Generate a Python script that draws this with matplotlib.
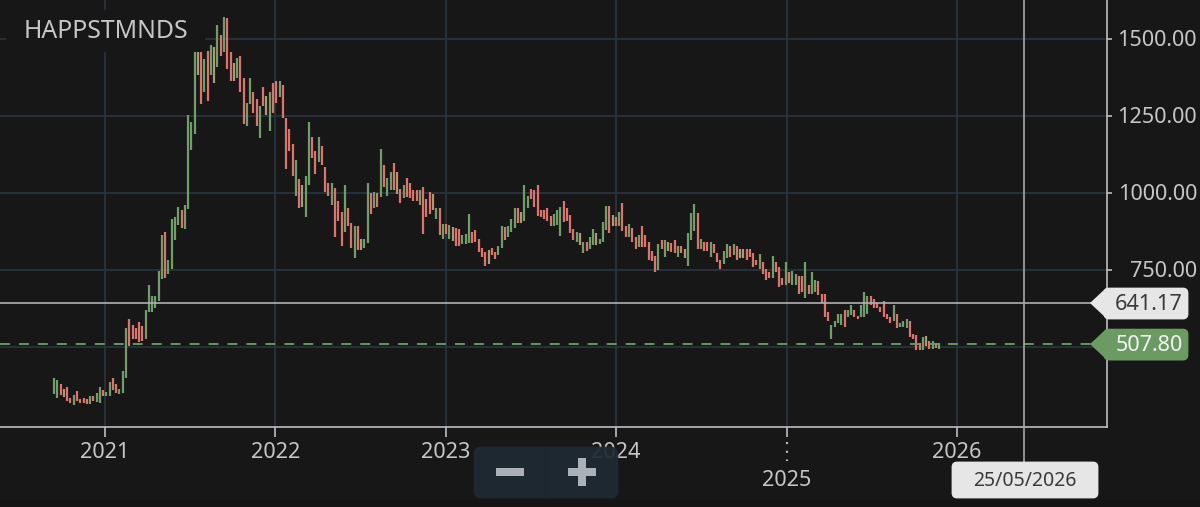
import pandas as pd
import matplotlib
matplotlib.use("Agg")
import matplotlib.pyplot as plt
import matplotlib.dates as mdates
from matplotlib.patches import FancyBboxPatch, Polygon, Rectangle

plt.rcParams['font.family'] = ['Noto Sans', 'DejaVu Sans']

symbol = "HAPPSTMNDS"
first_week = "2020-09-14"
cursor_date = "2026-05-25"
cursor_label = "25/05/2026"
horizontal_level = 641.17
last_price = 507.80
y_ticks = [500, 750, 1000, 1250, 1500]
y_labels = ["", "750.00", "1000.00", "1250.00", "1500.00"]
x_years = [2021, 2022, 2023, 2024, 2025, 2026]

highs = [397,390,378,361,368,332,344,356,331,334,331,338,338,350,368,359,353,385,397,379,
         361,419,560,588,571,560,581,565,617,700,664,664,746,862,873,781,914,919,954,943,
         960,1251,1228,1455,1455,1455,1432,1461,1478,1471,1543,1513,1571,1566,1455,1419,1437,1443,1373,1292,
         1373,1326,1304,1280,1344,1314,1326,1356,1361,1361,1350,1241,1205,1156,1106,1043,1024,1054,1228,1181,
         1135,1181,1152,1083,1031,1031,1014,973,938,1024,949,902,891,891,850,850,1031,997,1001,997,
         1141,1088,1048,1066,1095,1066,1012,1024,1048,1030,1007,1007,1007,1019,978,1001,995,949,949,898,
         898,896,889,886,880,861,866,931,873,878,849,821,808,814,821,808,826,890,887,890,
         914,949,949,937,1024,990,1012,1007,1024,943,943,949,925,931,943,954,974,950,927,881,
         871,868,839,839,857,881,868,850,903,955,955,926,919,938,967,891,898,886,857,862,
         891,862,839,810,793,833,845,845,839,835,845,827,827,816,868,932,962,932,850,839,
         839,839,833,804,781,810,833,827,833,827,816,816,816,816,805,781,799,775,752,741,
         793,775,757,722,775,741,746,734,729,729,775,700,741,717,712,670,670,612,571,583,
         607,607,617,617,636,617,600,636,676,664,664,653,641,629,647,606,595,635,606,577,
         583,588,583,542,536,510,530,534,518,519,510,510]
lows = [346,334,341,337,323,318,311,322,318,318,313,314,322,321,316,338,338,340,359,348,
        345,350,397,503,525,525,514,519,525,613,613,624,648,720,721,735,752,846,893,885,
        882,945,1137,1190,1382,1286,1326,1298,1382,1357,1409,1444,1457,1402,1362,1362,1373,1326,1222,1217,
        1286,1257,1217,1176,1281,1252,1199,1257,1292,1309,1241,1077,1136,1054,990,949,954,920,1025,1111,
        1059,1100,1088,1002,990,961,856,909,826,873,891,821,786,814,814,821,835,930,949,954,
        984,1019,990,1007,1007,995,965,983,984,983,971,971,961,866,919,931,942,914,861,849,
        866,849,843,826,826,832,832,837,837,838,808,791,761,768,797,785,797,821,846,854,
        872,884,902,902,907,949,978,954,925,919,914,907,890,890,896,858,903,909,867,845,
        839,830,804,809,816,830,828,833,839,877,867,891,891,891,874,857,857,839,816,822,
        822,822,781,778,743,748,816,792,809,806,804,792,804,786,762,846,874,816,816,810,
        810,792,804,774,751,769,786,792,798,781,786,786,781,792,758,764,752,734,717,722,
        722,741,693,700,700,705,700,700,670,676,659,670,670,676,667,640,595,583,524,564,
        576,571,564,595,601,595,588,595,595,606,635,624,624,612,595,588,577,583,559,564,
        564,559,532,524,489,489,489,502,493,493,495,493]
up_weeks = [0,1,6,11,13,14,16,17,20,21,22,28,29,30,31,32,33,35,36,37,38,40,41,42,43,46,48,50,52,56,59,60,63,66,69,
            74,77,78,81,85,89,92,95,96,98,100,102,103,107,112,117,119,121,125,126,127,136,137,139,140,141,144,145,
            153,154,155,160,162,164,165,167,168,169,173,176,179,185,187,191,194,195,196,198,201,205,206,208,
            216,220,224,226,227,230,232,233,238,239,240,241,243,244,247,248,249,257,259,260,261,266,269,271]
mixed_weeks = [3,44,49,55,65,76,94,105,116,122,133,143,161,166,171,188,193,210,211,267]

BG = "#171717"
GRID = "#29323d"
GREEN = "#6f9f68"
RED = "#dd736b"
TAN = "#ab9b75"
TXT = "#c6c6c6"
AXIS = "#bfbfbf"
FS = 15.6

W, H = 1200, 507
fig = plt.figure(figsize=(12, 5.07), dpi=100, facecolor=BG)
ax = fig.add_axes([0, (H - 427) / H, 1107 / W, 427 / H], facecolor=BG)

weeks = pd.date_range(first_week, periods=len(highs), freq="7D")
up_set, mixed_set = set(up_weeks), set(mixed_weeks)
colors = [TAN if i in mixed_set else (GREEN if i in up_set else RED) for i in range(len(highs))]

d0 = mdates.date2num(pd.Timestamp("2021-01-01"))
d1 = mdates.date2num(pd.Timestamp("2026-01-01"))
ppd = (957 - 105) / (d1 - d0)
ax.set_xlim(d0 - 105 / ppd, d0 + (1107 - 105) / ppd)
ax.set_ylim(500 - (427 - 346.5) * 3.247, 500 + 346.5 * 3.247)

year_pos = [mdates.date2num(pd.Timestamp(f"{y}-01-01")) for y in x_years]
ax.set_xticks(year_pos)
ax.set_xticklabels([])
ax.set_yticks(y_ticks)
ax.set_yticklabels([])
ax.grid(True, color=GRID, lw=1.3, zorder=0)
ax.set_axisbelow(True)
ax.tick_params(axis="x", length=7, width=1.2, color=AXIS)
ax.tick_params(axis="y", length=3.5, width=1.2, color=AXIS, right=True, left=False)
for s in ["top", "left"]:
    ax.spines[s].set_visible(False)
for s in ["right", "bottom"]:
    ax.spines[s].set_color(AXIS)
    ax.spines[s].set_linewidth(1.2)

ax.vlines(mdates.date2num(weeks), lows, highs, colors=colors, lw=1.6, zorder=3)

ax.axhline(horizontal_level, color="#b0b0b0", lw=1.2, zorder=4)
ax.axhline(last_price, color=GREEN, lw=1.3, dashes=(5.5, 5), zorder=4)

# Overlay layer in pixel space for the app's widgets
ov = fig.add_axes([0, 0, 1, 1], facecolor="none")
ov.set_xlim(0, W)
ov.set_ylim(H, 0)
ov.axis("off")

ov.add_patch(Rectangle((0, 500), W, 7, color="#141414", lw=0, zorder=1))
ov.add_patch(Rectangle((6, 10), 199, 42, color=BG, lw=0, zorder=5))
ov.text(24, 31, symbol, color=TXT, fontsize=17.9, va="center", ha="left", zorder=6)

cx = ax.transData.transform((mdates.date2num(pd.Timestamp(cursor_date)), 0))[0]
ov.plot([cx, cx], [0, 463], color="#a8a8a8", lw=1.2, zorder=4)

for year, pos in zip(x_years, year_pos):
    px = ax.transData.transform((pos, 0))[0]
    if year == 2025:
        ov.plot([px, px], [442, 461], color=AXIS, lw=1.5, dashes=(1, 3.2), zorder=3)
        ov.text(px, 481, str(year), color=TXT, fontsize=FS, ha="center", va="center", zorder=3)
    else:
        ov.text(px, 453, str(year), color=TXT, fontsize=FS, ha="center", va="center", zorder=3)

for val, lab in zip(y_ticks, y_labels):
    if lab:
        py = H - ax.transData.transform((0, val))[1]
        ov.text(1197, py + 2, lab, color=TXT, fontsize=FS, ha="right", va="center")


def tag(value, text, face, tc):
    py = H - ax.transData.transform((0, value))[1]
    ov.add_patch(FancyBboxPatch((1105, py - 14), 82, 29, boxstyle="round,pad=0,rounding_size=4",
                                fc=face, ec=face, lw=2, zorder=7))
    ov.add_patch(Polygon([(1090, py), (1106, py - 15), (1106, py + 15)], closed=True,
                         fc=face, ec=face, lw=0, zorder=7))
    ov.text(1183, py + 1.5, text, color=tc, fontsize=FS, ha="right", va="center", zorder=8)


tag(horizontal_level, f"{horizontal_level:.2f}", "#e6e6e6", "#3a3a3a")
tag(last_price, f"{last_price:.2f}", "#6b9b62", "#f2f2f2")

ov.add_patch(FancyBboxPatch((953, 463), 144, 34, boxstyle="round,pad=0,rounding_size=4",
                            fc="#e6e6e6", ec="#e6e6e6", lw=2, zorder=7))
ov.text(1025, 481, cursor_label, color="#3a3a3a", fontsize=14, ha="center", va="center", zorder=8)

ov.add_patch(FancyBboxPatch((475, 448), 142, 49, boxstyle="round,pad=0,rounding_size=6",
                            fc="#1f2a33", ec="#1f2a33", lw=2, alpha=0.93, zorder=7))
ov.plot([545, 545], [448, 497], color="#1a242c", lw=1, zorder=8)
ov.add_patch(Rectangle((496, 468), 28, 8, color="#aab1b8", lw=0, zorder=8))
ov.add_patch(Rectangle((568, 468), 28, 8, color="#aab1b8", lw=0, zorder=8))
ov.add_patch(Rectangle((578, 458), 8, 28, color="#aab1b8", lw=0, zorder=8))

fig.savefig("out.png", dpi=100, facecolor=BG)
